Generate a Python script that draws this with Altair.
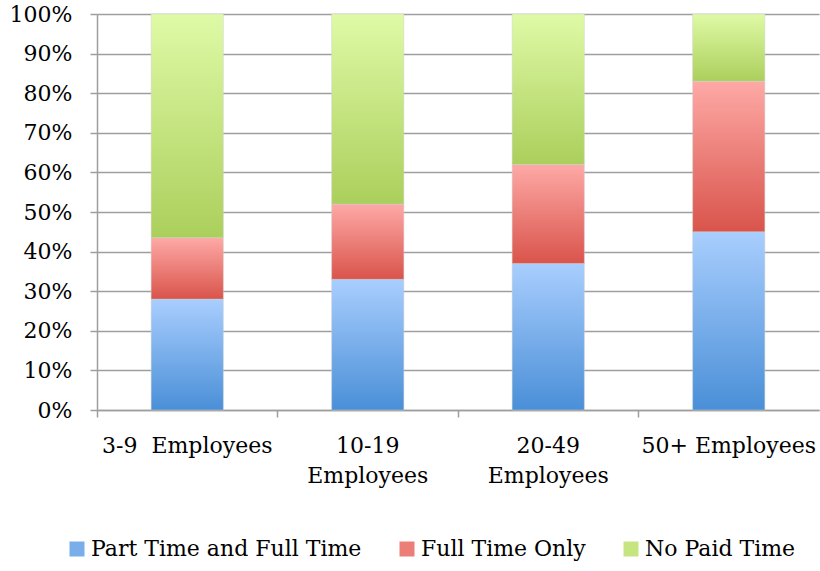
import altair as alt
import pandas as pd

# Company size groups and the share of firms in each paid-leave category (percent)
categories = ["3-9\u00a0 Employees", "10-19 Employees", "20-49 Employees", "50+ Employees"]
series = ["Part Time and Full Time", "Full Time Only", "No Paid Time"]
part_and_full = [28, 33, 37, 45]
full_only = [15.5, 19, 25, 38]
no_paid = [56.5, 48, 38, 17]

# Gradient end colours (top, bottom) and flat legend colours per series
top_colors = ["#a9cefe", "#fea9a6", "#dffaa6"]
bottom_colors = ["#4a8fd7", "#d9544b", "#abcf5c"]
legend_colors = ["#79aeea", "#ec7e77", "#c6e580"]

rows = []
for i, group in enumerate(categories):
    for k, values in enumerate([part_and_full, full_only, no_paid]):
        rows.append({"group": group, "series": series[k], "order": k, "share": values[i]})
df = pd.DataFrame(rows)


def gradient(top, bottom):
    return alt.LinearGradient(
        gradient="linear",
        x1=0, y1=0, x2=0, y2=1,
        stops=[alt.GradientStop(offset=0, color=top), alt.GradientStop(offset=1, color=bottom)],
    )


FONT = "DejaVu Serif"
FONT_SIZE = 22
GRID = "#9e9e9e"

x_enc = alt.X(
    "group:N",
    sort=categories,
    title=None,
    scale=alt.Scale(paddingInner=0, paddingOuter=0),
    axis=alt.Axis(
        orient="bottom",
        labelAngle=0,
        bandPosition=0,
        tickSize=7,
        tickColor=GRID,
        domainColor=GRID,
        domainWidth=1.5,
        tickWidth=1.5,
        labelPadding=18,
        labelLineHeight=30,
        labelFont=FONT,
        labelFontSize=FONT_SIZE,
        labelColor="#000000",
        labelLimit=300,
        labelExpr="indexof(datum.value, '10-19') == 0 || indexof(datum.value, '20-49') == 0 ? split(datum.value, ' ') : datum.value",
    ),
)

y_enc = alt.Y(
    "y0:Q",
    title=None,
    scale=alt.Scale(domain=[0, 1], nice=False),
    axis=alt.Axis(
        values=[i / 10 for i in range(11)],
        format=".0%",
        tickSize=7,
        tickColor=GRID,
        tickWidth=1.5,
        domainColor=GRID,
        domainWidth=1.5,
        gridColor=GRID,
        gridWidth=1.5,
        labelPadding=18,
        labelFont=FONT,
        labelFontSize=FONT_SIZE,
        labelColor="#000000",
    ),
)

base = alt.Chart(df).transform_stack(
    stack="share",
    groupby=["group"],
    as_=["y0", "y1"],
    offset="normalize",
    sort=[alt.SortField("order", order="ascending")],
)

layers = []
for k, name in enumerate(series):
    layers.append(
        base.transform_filter(alt.datum.series == name)
        .mark_bar(
            width=alt.RelativeBandSize(0.4),
            fill=gradient(top_colors[k], bottom_colors[k]),
            stroke="#cfcfcf",
            strokeWidth=0.8,
            strokeOpacity=0.6,
        )
        .encode(x=x_enc, y=y_enc, y2="y1:Q")
    )

# Transparent points that carry the colour legend
legend_layer = base.mark_point(shape="square", filled=True, opacity=0).encode(
    x=x_enc,
    y=y_enc,
    color=alt.Color(
        "series:N",
        sort=series,
        scale=alt.Scale(domain=series, range=legend_colors),
        legend=alt.Legend(
            title=None,
            orient="none",
            direction="horizontal",
            legendX=-31,
            legendY=524,
            symbolType="square",
            symbolSize=225,
            symbolOpacity=1,
            symbolStrokeWidth=0,
            labelFont=FONT,
            labelFontSize=FONT_SIZE,
            labelColor="#000000",
            labelOffset=3,
            labelLimit=400,
            columnPadding=34,
        ),
    ),
)

chart = (
    alt.layer(*layers, legend_layer)
    .properties(
        width=722,
        height=396,
        autosize=alt.AutoSizeParams(type="none"),
        padding={"left": 97, "top": 14, "right": 1, "bottom": 161},
        background="#ffffff",
    )
    .configure_view(stroke=None)
)

chart.save("out.html", embed_options={"renderer": "svg", "actions": False})
